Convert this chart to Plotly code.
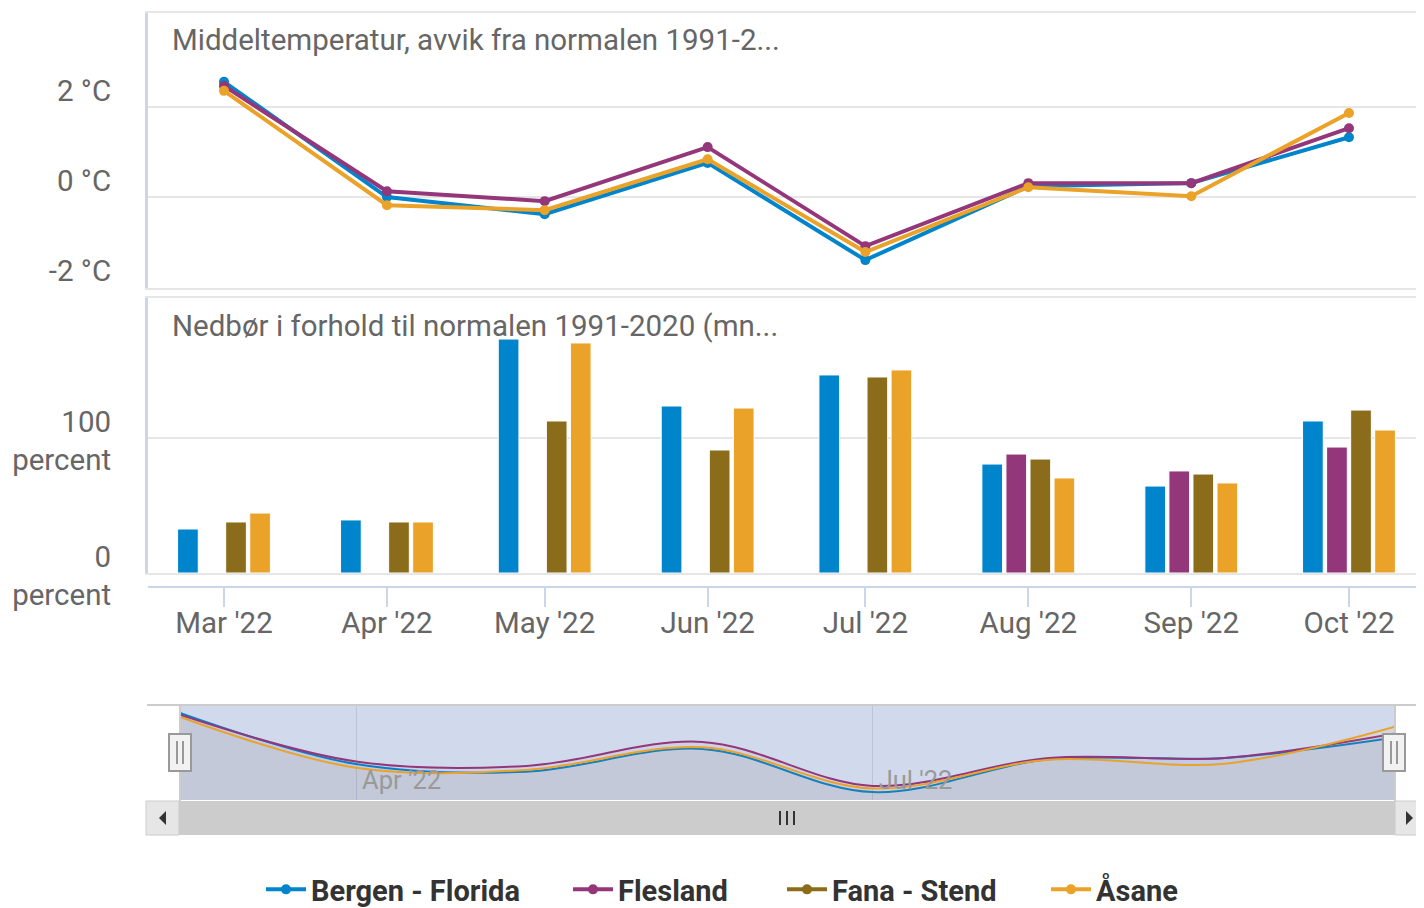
import plotly.graph_objects as go

# ---- data ----
months = ["2022-03-01", "2022-04-01", "2022-05-01", "2022-06-01",
          "2022-07-01", "2022-08-01", "2022-09-01", "2022-10-01"]
stations = ["Bergen - Florida", "Flesland", "Fana - Stend", "Åsane"]
colors = ["#0084cc", "#94377a", "#8b6c1b", "#eaa229"]

# temperature deviation from normal 1991-2020 (°C)
temp_bergen = [2.56, 0.00, -0.38, 0.76, -1.40, 0.24, 0.31, 1.33]
temp_flesland = [2.47, 0.13, -0.09, 1.11, -1.09, 0.31, 0.31, 1.53]
temp_fana = [None] * 8
temp_asane = [2.36, -0.18, -0.29, 0.84, -1.22, 0.22, 0.02, 1.87]

# precipitation relative to normal 1991-2020 (percent)
prec_bergen = [32.6, 39.3, 173.3, 123.7, 146.7, 80.7, 64.4, 112.6]
prec_flesland = [None, None, None, None, None, 88.1, 75.6, 93.3]
prec_fana = [37.8, 37.8, 112.6, 91.1, 145.2, 84.4, 73.3, 120.7]
prec_asane = [44.4, 37.8, 170.4, 122.2, 150.4, 70.4, 66.7, 105.9]

temp_ticks = [-2, 0, 2]
temp_ticktext = ["-2 °C<br> ", "0 °C<br> ", "2 °C<br> "]
prec_ticks = [0, 100]
prec_ticktext = ["0<br>percent", "100<br>percent"]
nav_ticks = ["2022-04-01", "2022-07-01"]

temps = [temp_bergen, temp_flesland, temp_fana, temp_asane]
precs = [prec_bergen, prec_flesland, prec_fana, prec_asane]

# the page body adds an 8px margin, so the figure is laid out in page pixels minus 8
OFF = 8
W, H = 1416, 900


def py(px):
    return 1 - (px - OFF) / H


def pxx(px):
    return (px - OFF) / W


FONT = "Roboto"
GRAY = "#666666"
FS = 29.5

fig = go.Figure()

# temperature lines (each in its own legend so the entries can be placed like the original)
legend_x = [261, 568, 782, 1046]
for i, (name, col, t) in enumerate(zip(stations, colors, temps)):
    fig.add_trace(go.Scatter(
        x=months, y=t, name=name, mode="lines+markers",
        line=dict(color=col, width=4), marker=dict(color=col, size=10),
        xaxis="x", yaxis="y", legend="legend" if i == 0 else f"legend{i + 1}"
    ))

# precipitation bars
for i, (name, col, p) in enumerate(zip(stations, colors, precs)):
    fig.add_trace(go.Bar(
        x=months, y=p, name=name, marker=dict(color=col, line=dict(color="white", width=1)),
        offsetgroup=str(i), xaxis="x2", yaxis="y2", showlegend=False
    ))

# helper traces for the shared bottom date axis (ticks) and its labels
fig.add_trace(go.Scatter(x=months, y=[None] * len(months), xaxis="x3", yaxis="y2",
                         showlegend=False, hoverinfo="skip"))
fig.add_trace(go.Scatter(x=months, y=[None] * len(months), xaxis="x5", yaxis="y2",
                         showlegend=False, hoverinfo="skip"))

# navigator
nav_vals = [v for t in temps for v in t if v is not None]
span = max(nav_vals) - min(nav_vals)
nav_lo = min(nav_vals) - 0.1 * span
nav_hi = max(nav_vals) + 0.1 * span
for name, col, t in zip(stations, colors, temps):
    if all(v is None for v in t):
        continue
    fig.add_trace(go.Scatter(x=months, y=[nav_lo] * len(months), mode="lines",
                             line=dict(width=0), xaxis="x4", yaxis="y4",
                             showlegend=False, hoverinfo="skip"))
    r, g, b = int(col[1:3], 16), int(col[3:5], 16), int(col[5:7], 16)
    fig.add_trace(go.Scatter(
        x=months, y=t, mode="lines", line=dict(color=col, width=2, shape="spline", smoothing=1.0),
        fill="tonexty", fillcolor=f"rgba({r},{g},{b},0.06)",
        xaxis="x4", yaxis="y4", showlegend=False, hoverinfo="skip"
    ))

x_range = ["2022-02-14 13:00", "2022-10-15 06:30"]
frame = dict(showline=True, mirror=True, linecolor="#e6e6e6", linewidth=2,
             showgrid=False, showticklabels=False, ticks="", zeroline=False)

nav_l, nav_r = pxx(180), pxx(1395)
shapes = [
    # navigator background mask
    dict(type="rect", xref="x4 domain", yref="y4 domain", x0=0, x1=1, y0=0, y1=1,
         fillcolor="rgba(102,133,194,0.3)", line=dict(width=0), layer="below"),
    # navigator outline
    dict(type="line", xref="paper", yref="paper", x0=pxx(147), x1=1, y0=py(705), y1=py(705),
         line=dict(color="#cccccc", width=2)),
    dict(type="line", xref="paper", yref="paper", x0=nav_l, x1=nav_l, y0=py(705), y1=py(801),
         line=dict(color="#cccccc", width=2)),
    dict(type="line", xref="paper", yref="paper", x0=nav_r, x1=nav_r, y0=py(705), y1=py(801),
         line=dict(color="#cccccc", width=2)),
    # scrollbar
    dict(type="rect", xref="paper", yref="paper", x0=pxx(146), x1=1, y0=py(835), y1=py(801),
         fillcolor="#cccccc", line=dict(width=0)),
    dict(type="rect", xref="paper", yref="paper", x0=pxx(146), x1=pxx(179), y0=py(835), y1=py(801),
         fillcolor="#e6e6e6", line=dict(color="#cccccc", width=1)),
    dict(type="rect", xref="paper", yref="paper", x0=pxx(1395), x1=1, y0=py(835), y1=py(801),
         fillcolor="#e6e6e6", line=dict(color="#cccccc", width=1)),
    dict(type="path", xref="paper", yref="paper",
         path=f"M {pxx(166)} {py(811)} L {pxx(159)} {py(818)} L {pxx(166)} {py(825)} Z",
         fillcolor="#333333", line=dict(width=0)),
    dict(type="path", xref="paper", yref="paper",
         path=f"M {pxx(1406)} {py(811)} L {pxx(1413)} {py(818)} L {pxx(1406)} {py(825)} Z",
         fillcolor="#333333", line=dict(width=0)),
]
for gx in (780, 787, 794):
    shapes.append(dict(type="line", xref="paper", yref="paper", x0=pxx(gx), x1=pxx(gx),
                       y0=py(811), y1=py(825), line=dict(color="#333333", width=2)))
# navigator handles
for hx in (180, 1394):
    shapes.append(dict(type="rect", xref="paper", yref="paper",
                       x0=pxx(hx - 11), x1=pxx(hx + 11), y0=py(771), y1=py(734),
                       fillcolor="#f2f2f2", line=dict(color="#999999", width=2), layer="above"))
    for dx in (-3, 3):
        shapes.append(dict(type="line", xref="paper", yref="paper",
                           x0=pxx(hx + dx), x1=pxx(hx + dx), y0=py(764), y1=py(741),
                           line=dict(color="#999999", width=2), layer="above"))

annotations = [
    dict(text="Middeltemperatur, avvik fra normalen 1991-2...", xref="paper", yref="paper",
         x=pxx(170), y=py(40), xanchor="left", yanchor="middle", showarrow=False,
         font=dict(family=FONT, size=FS, color=GRAY)),
    dict(text="Nedbør i forhold til normalen 1991-2020 (mn...", xref="paper", yref="paper",
         x=pxx(170), y=py(326), xanchor="left", yanchor="middle", showarrow=False,
         font=dict(family=FONT, size=FS, color=GRAY)),
]

legend_style = dict(orientation="h", xanchor="left", yanchor="bottom", y=-7 / H,
                    font=dict(family=FONT, size=29, color="#333333", weight="bold"),
                    itemwidth=40, bgcolor="rgba(0,0,0,0)")
legends = {}
for i, lx in enumerate(legend_x):
    key = "legend" if i == 0 else f"legend{i + 1}"
    legends[key] = dict(x=pxx(lx), **legend_style)

ytick_common = dict(showgrid=True, gridcolor="#e6e6e6", gridwidth=2, zeroline=False,
                    showline=True, linecolor="#ccd6eb", linewidth=3,
                    ticks="outside", ticklen=28, tickcolor="rgba(0,0,0,0)",
                    ticklabelshift=3,
                    tickfont=dict(family=FONT, size=FS, color=GRAY))

fig.update_layout(
    width=W, height=H,
    margin=dict(l=0, r=0, t=0, b=0, autoexpand=False),
    paper_bgcolor="white", plot_bgcolor="white",
    font=dict(family=FONT, size=FS, color=GRAY),
    barmode="group", bargap=0.39, bargroupgap=0.14,
    xaxis=dict(domain=[pxx(148), 1], range=x_range, type="date", anchor="y", **frame),
    yaxis=dict(domain=[py(288), py(13)], range=[-2.02, 4.09], anchor="x",
               tickvals=temp_ticks, ticktext=temp_ticktext, **ytick_common),
    xaxis2=dict(domain=[pxx(148), 1], range=x_range, type="date", anchor="y2", matches="x", **frame),
    yaxis2=dict(domain=[py(573), py(298)], range=[0, 203.7], anchor="x2",
                tickvals=prec_ticks, ticktext=prec_ticktext, **ytick_common),
    xaxis3=dict(range=x_range, type="date", anchor="free", position=py(587), overlaying="x2",
                matches="x", tickvals=months, showticklabels=False,
                showline=True, linecolor="#ccd6eb", linewidth=2,
                ticks="outside", ticklen=19, tickwidth=2, tickcolor="#ccd6eb",
                showgrid=False, zeroline=False),
    xaxis5=dict(range=x_range, type="date", anchor="free", position=py(602), overlaying="x2",
                matches="x", tickvals=months, tickformat="%b '%y",
                showline=False, ticks="", showgrid=False, zeroline=False,
                tickfont=dict(family=FONT, size=FS, color=GRAY)),
    xaxis4=dict(domain=[nav_l, nav_r], range=[months[0], months[-1]], type="date",
                anchor="y4", tickvals=nav_ticks, tickformat="%b '%y",
                ticklabelposition="inside right", ticklabelshift=6,
                showgrid=True, gridcolor="#bcc4d8", gridwidth=1,
                showline=False, ticks="", zeroline=False,
                tickfont=dict(family=FONT, size=25.5, color="#999999")),
    yaxis4=dict(domain=[py(800), py(705)], range=[nav_lo, nav_hi], anchor="x4",
                showgrid=False, showticklabels=False, zeroline=False, showline=False),
    shapes=shapes,
    annotations=annotations,
    showlegend=True,
    **legends,
)

fig.write_html("out.html")
